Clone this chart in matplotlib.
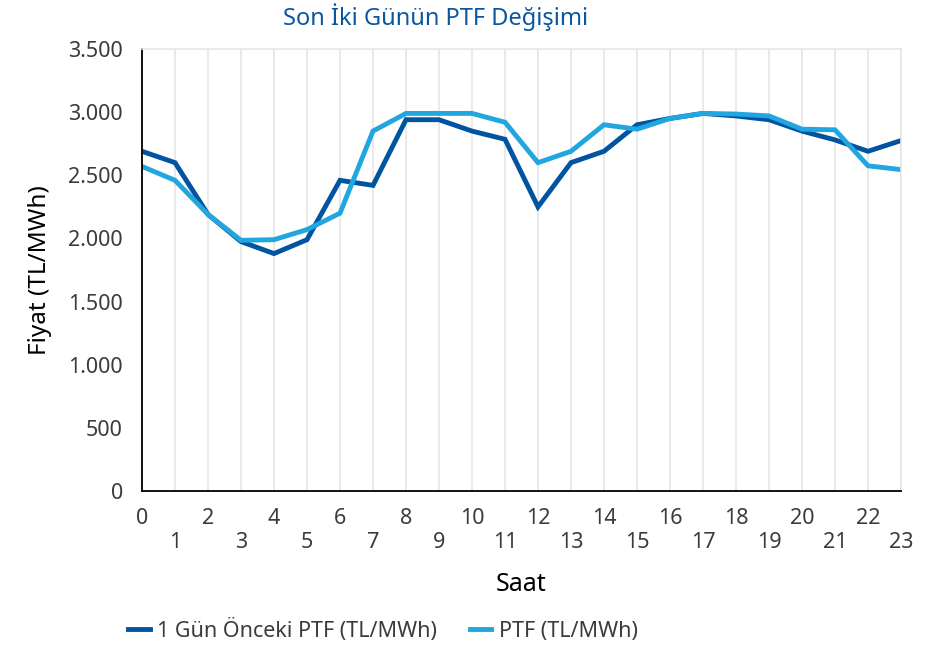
import matplotlib
matplotlib.use("Agg")
import matplotlib.pyplot as plt
from matplotlib.ticker import FuncFormatter, MultipleLocator

plt.rcParams["font.family"] = ["Noto Sans", "DejaVu Sans"]

hours = list(range(24))
prev_day = [2690, 2600, 2190, 1975, 1880, 1990, 2460, 2420, 2940, 2940, 2850, 2785,
            2250, 2600, 2690, 2900, 2950, 2990, 2970, 2940, 2850, 2780, 2690, 2775]
ptf = [2570, 2460, 2190, 1985, 1990, 2070, 2200, 2850, 2990, 2990, 2990, 2920,
       2600, 2690, 2900, 2865, 2950, 2990, 2985, 2970, 2865, 2860, 2575, 2545]
series_labels = ["1 Gün Önceki PTF (TL/MWh)", "PTF (TL/MWh)"]
title = "Son İki Günün PTF Değişimi"

dark_blue = "#0054A0"
light_blue = "#21A6E0"
text_col = "#3b3b3b"

fig = plt.figure(figsize=(9.46, 6.46), dpi=100)
ax = fig.add_axes([142 / 946, 155 / 646, 759 / 946, 442 / 646])

ax.plot(hours, prev_day, color=dark_blue, lw=3.5, label=series_labels[0], solid_joinstyle="miter")
ax.plot(hours, ptf, color=light_blue, lw=3.5, label=series_labels[1], solid_joinstyle="miter")

ax.set_xlim(0, 23)
ax.set_ylim(0, 3500)
ax.yaxis.set_major_locator(MultipleLocator(500))
ax.yaxis.set_major_formatter(FuncFormatter(lambda v, _: f"{int(v):,}".replace(",", ".")))

# even hours on the first row, odd hours lower
ax.set_xticks(hours[0::2])
ax.set_xticks(hours[1::2], minor=True)
ax.set_xticklabels([str(h) for h in hours[0::2]])
ax.set_xticklabels([str(h) for h in hours[1::2]], minor=True)
ax.tick_params(axis="x", which="major", length=0, pad=12.5, labelsize=15.5, labelcolor=text_col)
ax.tick_params(axis="x", which="minor", length=0, pad=29.5, labelsize=15.5, labelcolor=text_col)
ax.tick_params(axis="y", length=0, pad=13.7, labelsize=15.5, labelcolor=text_col)

ax.grid(axis="x", which="both", color="#e6e6e6", lw=1.2)
ax.set_axisbelow(True)
for side in ("top", "right"):
    ax.spines[side].set_color("#e6e6e6")
    ax.spines[side].set_linewidth(1.2)
for side in ("left", "bottom"):
    ax.spines[side].set_color("black")
    ax.spines[side].set_linewidth(1.3)

ax.set_xlabel("Saat", fontsize=18, color="black", labelpad=13.5)
ax.set_ylabel("Fiyat (TL/MWh)", fontsize=17.5, color="black", labelpad=12)

fig.text(436 / 946, 1 - 17 / 646, title, ha="center", va="center", fontsize=17, color="#0A57A0")

fig.legend(loc="center", bbox_to_anchor=(383 / 946, 16 / 646), ncol=2, frameon=False,
           fontsize=15.5, handlelength=1.0, handletextpad=0.35, columnspacing=1.5,
           labelcolor=text_col)

fig.savefig("out.png", dpi=100)
